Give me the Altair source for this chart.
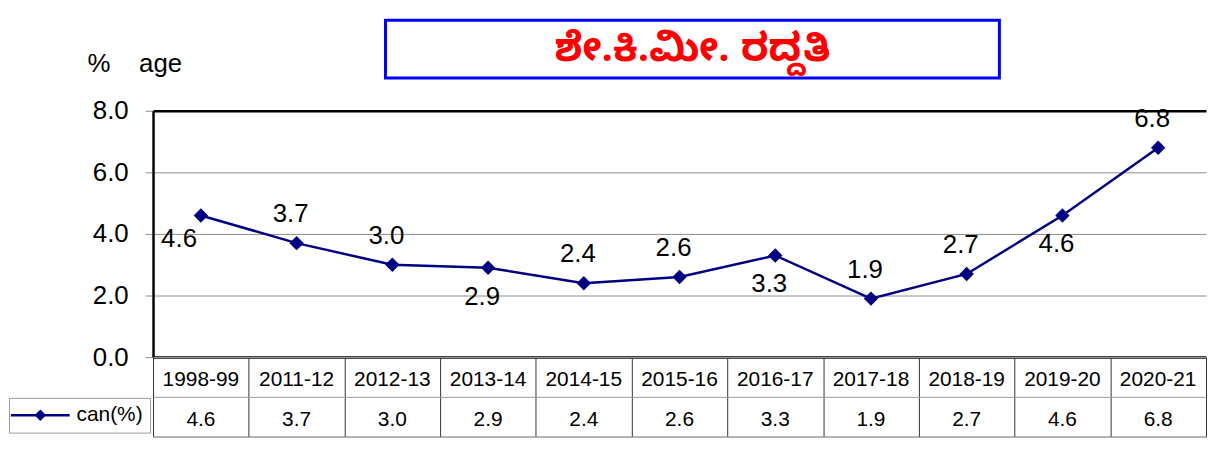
import json
import altair as alt
import pandas as pd

# ---------------- data ----------------
CATEGORIES = ["1998-99", "2011-12", "2012-13", "2013-14", "2014-15", "2015-16",
              "2016-17", "2017-18", "2018-19", "2019-20", "2020-21"]
CAN_PCT = [4.6, 3.7, 3.0, 2.9, 2.4, 2.6, 3.3, 1.9, 2.7, 4.6, 6.8]
SERIES_NAME = "can(%)"
TITLE_TEXT = "ಶೇ.ಕಿ.ಮೀ. ರದ್ದತಿ"
Y_TITLE = "%\u00a0\u00a0\u00a0\u00a0age"
Y_TICKS = [0, 2, 4, 6, 8]
LABELS_BELOW = ["2013-14", "2016-17", "2019-20"]
LABELS_BELOW_LEFT = ["1998-99"]

FONT = "Liberation Sans"
KN_FONT = "Noto Sans Kannada, Noto Serif Kannada, Tunga, Lohit Kannada, sans-serif"
NAVY = "#000080"
GRAY = "#8c8c8c"
TGRAY = "#9a9a9a"

PLOT_W = 1060
PLOT_H = 248

df = pd.DataFrame({"cat": CATEGORIES, "value": CAN_PCT, "series": SERIES_NAME})

n = len(CATEGORIES)
tbl = pd.DataFrame({
    "cat": CATEGORIES + CATEGORIES,
    "row": ["hdr"] * n + ["val"] * n,
    "txt": CATEGORIES + [f"{v:.1f}" for v in CAN_PCT],
    "series": SERIES_NAME,
})

# ---------------- line chart ----------------
x_line = alt.X("cat:N", sort=CATEGORIES,
               scale=alt.Scale(type="point", padding=0.5),
               axis=alt.Axis(labels=False, ticks=False, grid=False,
                             domainColor="black", domainWidth=2.5, title=None))
y_line = alt.Y("value:Q",
               scale=alt.Scale(domain=[0, 8], nice=False, zero=True),
               axis=alt.Axis(values=Y_TICKS, format=".1f",
                             labelFont=FONT, labelFontSize=26, labelColor="black",
                             labelPadding=17, tickSize=8, tickColor=GRAY, tickWidth=1,
                             domainColor="black", domainWidth=2.5,
                             gridColor=alt.condition("datum.value === 8", alt.value("black"), alt.value(GRAY)),
                             gridWidth=alt.condition("datum.value === 8", alt.value(2.5), alt.value(1)),
                             title=None))

base = alt.Chart(df).encode(x=x_line, y=y_line)

line = base.mark_line(
    color=NAVY, strokeWidth=2.5,
    point=alt.OverlayMarkDef(shape="diamond", size=210, filled=True, color=NAVY, opacity=1),
)

below_all = LABELS_BELOW + LABELS_BELOW_LEFT
txt_kw = dict(font=FONT, fontSize=26, color="black", baseline="middle", align="center")
lbl_enc = dict(text=alt.Text("value:Q", format=".1f"))

labels_above = base.transform_filter(
    f"indexof({json.dumps(below_all)}, datum.cat) < 0"
).mark_text(dx=-6, dy=-29, **txt_kw).encode(**lbl_enc)

labels_below = base.transform_filter(
    f"indexof({json.dumps(LABELS_BELOW)}, datum.cat) >= 0"
).mark_text(dx=-6, dy=29, **txt_kw).encode(**lbl_enc)

labels_below_left = base.transform_filter(
    f"indexof({json.dumps(LABELS_BELOW_LEFT)}, datum.cat) >= 0"
).mark_text(dx=-22, dy=24, **txt_kw).encode(**lbl_enc)

line_chart = alt.layer(line, labels_above, labels_below, labels_below_left).properties(
    width=PLOT_W, height=PLOT_H
)

# ---------------- data table ----------------
tx = alt.X("cat:N", sort=CATEGORIES,
           scale=alt.Scale(paddingInner=0, paddingOuter=0),
           axis=alt.Axis(labels=False, ticks=False, domain=False, grid=True,
                         gridColor="#333333", gridWidth=1, tickBand="extent", title=None))
ty = alt.Y("row:N", sort=["hdr", "val"],
           scale=alt.Scale(paddingInner=0, paddingOuter=0),
           axis=alt.Axis(labels=False, domain=False, ticks=False, grid=True,
                         gridColor=TGRAY, gridWidth=1, tickBand="extent", title=None))

table_base = alt.Chart(tbl).encode(x=tx, y=ty)

table_text = table_base.mark_text(font=FONT, fontSize=21, baseline="middle", dy=3,
                                  color="black").encode(text="txt:N")

table_key = table_base.mark_point(filled=True, size=0).encode(
    color=alt.Color("series:N", scale=alt.Scale(range=[NAVY]),
                    legend=alt.Legend(
                        orient="none", legendX=-145, legendY=41, title=None, padding=7,
                        strokeColor=TGRAY,
                        symbolType="M-7.4,0L7.4,0M0,-1L1,0L0,1L-1,0Z", symbolSize=64,
                        symbolOffset=14,
                        symbolStrokeWidth=2.5, symbolOpacity=1,
                        symbolFillColor=NAVY, symbolStrokeColor=NAVY,
                        labelFont=FONT, labelFontSize=21, labelColor="black", labelOffset=26,
                    )),
)

table = alt.layer(table_text, table_key).properties(
    width=PLOT_W, height=80,
    view=alt.ViewBackground(stroke=TGRAY, strokeWidth=1),
)

# ---------------- title row ----------------
spacer = alt.Chart(pd.DataFrame({"t": [0]})).mark_point(opacity=0, size=0).properties(
    width=234, height=58,
    title=alt.Title(text=Y_TITLE, color="black", font=FONT, fontSize=26,
                    fontWeight="normal", anchor="start", orient="top", frame="group",
                    baseline="alphabetic", offset=0, dx=-66, dy=77.5),
)
title_panel = alt.Chart(pd.DataFrame({"t": [TITLE_TEXT]})).mark_text(
    font=KN_FONT, fontSize=40, fontWeight="bold", color="#ff0000",
    baseline="middle", align="center",
).encode(text="t:N").properties(
    width=618, height=58,
    view=alt.ViewBackground(stroke="#0000ff", strokeWidth=3),
)

inner = alt.vconcat(line_chart, table, spacing=0, bounds="flush").resolve_scale(
    color="independent").resolve_legend(color="independent")

chart = alt.vconcat(
    alt.hconcat(spacer, title_panel, spacing=0, bounds="flush"),
    inner,
    spacing=17,
).resolve_scale(color="independent").resolve_legend(color="independent").properties(
    padding={"left": 0, "top": 9, "right": 0, "bottom": 0}
).configure_view(stroke="transparent")

chart.save("out.html", embed_options={"renderer": "svg", "actions": False})
